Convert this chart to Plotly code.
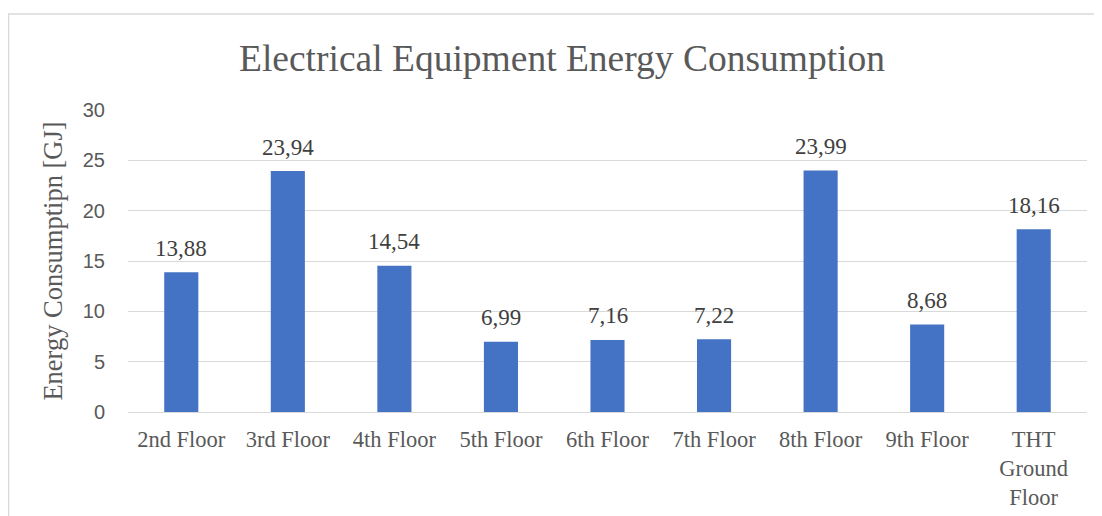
import plotly.graph_objects as go

categories = ["2nd Floor", "3rd Floor", "4th Floor", "5th Floor", "6th Floor",
              "7th Floor", "8th Floor", "9th Floor", "THT<br>Ground<br>Floor"]
values = [13.88, 23.94, 14.54, 6.99, 7.16, 7.22, 23.99, 8.68, 18.16]
labels = [f"{v:.2f}".replace(".", ",") for v in values]
y_ticks = [0, 5, 10, 15, 20, 25, 30]

# page has an 8px body margin, so the figure is drawn 8px right/down
OFF = 8
W, H = 1102 - OFF, 516 - OFF
L, R, T, B = 128 - OFF, 15, 110 - OFF, 104
pw, ph = W - L - R, H - T - B

def px_x(x):
    return (x - OFF - L) / pw

def px_y(y):
    return (H - B - (y - OFF)) / ph

fig = go.Figure(go.Bar(
    x=categories, y=values,
    marker=dict(color="#4472C4", line=dict(width=0)),
    hoverinfo="x+y",
))

annotations = [dict(x=c, y=v, xref="x", yref="y", text=t, showarrow=False,
                    yanchor="middle", yshift=24,
                    font=dict(family="Liberation Serif", size=23, color="#404040"))
               for c, v, t in zip(categories, values, labels)]

fig.update_layout(
    width=W, height=H,
    margin=dict(l=L, r=R, t=T, b=B, autoexpand=False),
    paper_bgcolor="white", plot_bgcolor="white",
    bargap=0.68,
    showlegend=False,
    annotations=annotations,
    title=dict(text="Electrical Equipment Energy Consumption",
               font=dict(family="Liberation Serif", size=37.5, color="#595959"),
               x=px_x(562), xref="paper", xanchor="center",
               y=1 - (58 - OFF) / H, yanchor="middle"),
    xaxis=dict(showgrid=False, showline=False, ticks="", ticklabelstandoff=11,
               tickfont=dict(family="Liberation Serif", size=22.5, color="#595959")),
    yaxis=dict(range=[0, 30], tickvals=y_ticks, showgrid=True, gridcolor="#d9d9d9",
               gridwidth=1.3, zeroline=True, zerolinecolor="#d9d9d9", zerolinewidth=1.3,
               showline=False, ticks="", ticklabelstandoff=22,
               tickfont=dict(family="Liberation Sans", size=20, color="#595959")),
    shapes=[dict(type="rect", xref="paper", yref="paper",
                 x0=px_x(8.5), x1=px_x(1102 + 30), y0=px_y(516 + 30), y1=px_y(14),
                 line=dict(color="#d9d9d9", width=1.5), fillcolor="rgba(0,0,0,0)",
                 layer="below")],
)
fig.update_yaxes(title=dict(text="Energy Consumptipn [GJ]", standoff=12,
                            font=dict(family="Liberation Serif", size=26.5, color="#595959")))

fig.write_html("out.html")
